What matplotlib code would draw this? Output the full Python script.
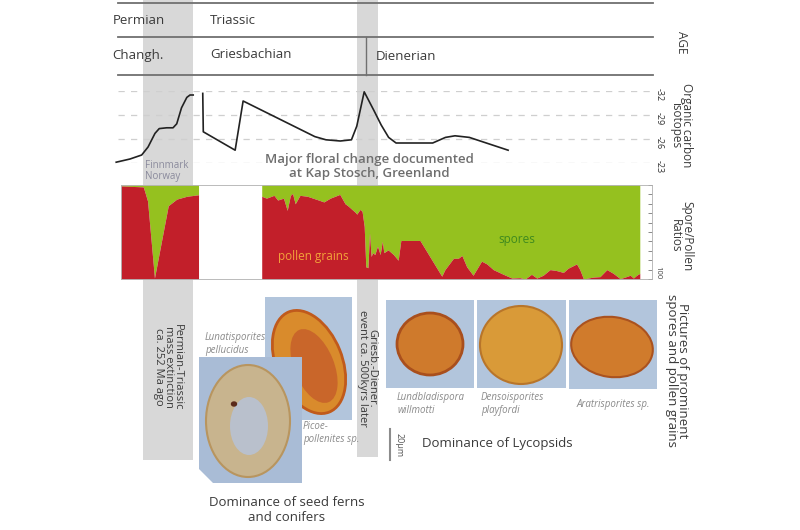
import numpy as np
import matplotlib
matplotlib.use("Agg")
import matplotlib.pyplot as plt
from matplotlib.patches import Rectangle, Polygon, Ellipse
from matplotlib.transforms import blended_transform_factory

plt.rcParams['font.family'] = ['Open Sans', 'DejaVu Sans']
plt.rcParams['axes.unicode_minus'] = False

# organic carbon isotope curve (section position 0-100, permil)
iso_pos_1 = [-0.9, 1.7, 3.9, 5.1, 6.4, 7.2, 8.6, 9.8, 10.5, 11.4, 12.4, 13.0, 13.6]
iso_val_1 = [-23.1, -23.5, -24.0, -25.0, -26.7, -27.3, -27.4, -27.4, -27.9, -29.9, -31.2, -31.5, -31.5]
iso_pos_2 = [15.4, 15.5, 21.5, 23.0, 36.5, 38.6, 41.3, 43.4, 44.4, 45.1, 45.8, 47.6, 49.0, 50.4,
             51.8, 58.7, 61.1, 62.9, 65.6, 72.9]
iso_val_2 = [-31.7, -26.9, -24.6, -30.75, -26.3, -25.9, -25.75, -25.9, -27.6, -29.75, -31.9, -29.6,
             -27.75, -26.2, -25.5, -25.5, -26.2, -26.4, -26.2, -24.6]
iso_ticks = [-32, -29, -26, -23]

# pollen percentage (the rest are spores)
pollen_pos_a = [0.0, 4.2, 5.0, 6.3, 8.9, 10.5, 12.4, 14.6]
pollen_a = [99, 98, 83, 1, 78, 85, 88, 89.6]
pollen_pos_b = [26.5, 27.4, 28.8, 29.5, 30.6, 31.3, 31.9, 32.3, 32.8, 33.7,
                35.1, 37.2, 38.2, 39.4, 41.2, 42.2, 42.7, 43.5, 44.1, 44.4,
                45.0, 45.4, 45.8, 46.1, 46.5, 46.8, 47.1, 47.4, 47.8, 48.3,
                48.8, 49.2, 49.5, 50.3, 51.3, 52.2, 52.7, 56.3, 60.4, 61.0,
                62.6, 63.5, 64.2, 65.1, 66.3, 67.9, 68.9, 70.1, 72.0, 73.6,
                75.1, 76.1, 77.3, 78.3, 79.5, 80.8, 82.0, 83.3, 84.2, 85.8,
                86.4, 87.1, 88.9, 90.2, 91.5, 92.7, 94.0, 94.9, 95.9, 96.5,
                97.1, 97.7]
pollen_b = [88, 86, 89, 84, 86, 73, 89, 91, 80, 89,
            88, 84, 82, 86, 90, 80, 78, 74, 71, 69,
            74, 72, 56, 13, 12, 49, 24, 28, 26, 35,
            26, 40, 28, 31, 26, 20, 41, 41, 3, 10,
            22, 22, 25, 13, 4, 19, 16, 10, 5, 1,
            1.4, 0, 5, 1, 4, 10, 9, 7, 11.5, 16,
            10, 0, 2, 2.5, 10, 6, 0.4, 2, 4, 1,
            4, 6]

# event bands (section position)
event_spans = [(4.1, 13.6), (44.4, 48.4)]
event_bottoms = [460, 457]

RED = '#c21f2a'
GREEN = '#95c11f'
BAND = '#d8d8d8'
DARK = '#3a3a3a'

fig = plt.figure(figsize=(8, 5.3), dpi=100)
bg = fig.add_axes([0, 0, 1, 1], zorder=0)
bg.set_xlim(0, 800)
bg.set_ylim(530, 0)
bg.axis('off')


def place(x0, y0, x1, y1, z):
    return fig.add_axes([x0 / 800, 1 - y1 / 530, (x1 - x0) / 800, (y1 - y0) / 530], zorder=z)


# spore / pollen chart
ax_sp = place(121, 185, 652, 279, 1)
ax_sp.set_xlim(0, 100)
ax_sp.set_ylim(100, 0)
for pos, pol in [(pollen_pos_a, pollen_a), (pollen_pos_b, pollen_b)]:
    pos = np.array(pos)
    spore = 100 - np.array(pol)
    ax_sp.fill_between(pos, 0, spore, color=GREEN, lw=0)
    ax_sp.fill_between(pos, spore, 100, color=RED, lw=0)
ax_sp.set_xticks([])
ax_sp.yaxis.tick_right()
ax_sp.set_yticks(np.arange(0, 101, 10))
ax_sp.set_yticklabels([''] * 10 + ['100'])
ax_sp.tick_params(axis='y', direction='in', length=3, width=0.6, color='#777777',
                  labelsize=5.5, labelrotation=-90, pad=1.5, labelcolor='#444444')
for lbl in ax_sp.get_yticklabels():
    lbl.set_va('bottom')
for s in ax_sp.spines.values():
    s.set_color('#b0b0b0')
    s.set_linewidth(0.6)
ax_sp.text(36.2, 76, 'pollen grains', color='#f2a23a', fontsize=8.5, ha='center', va='center')
ax_sp.text(74.6, 58, 'spores', color='#3f8a1e', fontsize=8.5, ha='center', va='center')

# isotope curve
ax_iso = place(118, 91, 655, 163, 2)
ax_iso.set_xlim(-0.56, 100.56)
ax_iso.set_ylim(-23, -32)
ax_iso.patch.set_visible(False)
for s in ax_iso.spines.values():
    s.set_visible(False)
ax_iso.plot(iso_pos_1, iso_val_1, color='#222222', lw=1.2, clip_on=False)
ax_iso.plot(iso_pos_2, iso_val_2, color='#222222', lw=1.2, clip_on=False)
ax_iso.set_xticks([])
ax_iso.yaxis.tick_right()
ax_iso.set_yticks(iso_ticks)
ax_iso.tick_params(axis='y', length=0, labelsize=6.5, labelrotation=-90, pad=0, labelcolor='#333333')
ax_iso.grid(axis='y', color='#cfcfcf', lw=0.9, linestyle=(0, (5, 5)))

# grey event bands behind everything
band_tr = blended_transform_factory(ax_sp.transData, bg.transData)
for (a, b), bot in zip(event_spans, event_bottoms):
    bg.add_patch(Rectangle((a, 0), b - a, bot, transform=band_tr, color=BAND, lw=0, zorder=0))

# age columns
for y in [3, 37, 75]:
    bg.plot([118, 653], [y, y], color='#707070', lw=1.3, zorder=1)
bg.plot([366, 366], [37, 75], color='#707070', lw=1.0, zorder=1)
bg.text(113, 20, 'Permian', fontsize=9.5, color=DARK, va='center')
bg.text(210, 20, 'Triassic', fontsize=9.5, color=DARK, va='center')
bg.text(112, 55, 'Changh.', fontsize=9.5, color=DARK, va='center')
bg.text(210, 55, 'Griesbachian', fontsize=9.5, color=DARK, va='center')
bg.text(376, 57, 'Dienerian', fontsize=9.5, color=DARK, va='center')

# right-hand labels
bg.text(681, 42, 'AGE', rotation=-90, fontsize=8.5, color=DARK, ha='center', va='center')
bg.text(681, 125, 'Organic carbon\nisotopes', rotation=-90, fontsize=8.5, color=DARK,
        ha='center', va='center', linespacing=0.85)
bg.text(681, 236, 'Spore/Pollen\nRatios', rotation=-90, fontsize=8.5, color=DARK,
        ha='center', va='center', linespacing=0.85)
bg.text(677, 371, 'Pictures of prominent\nspores and pollen grains', rotation=-90, fontsize=9.5,
        color=DARK, ha='center', va='center', linespacing=0.85)

bg.text(369, 166, 'Major floral change documented\nat Kap Stosch, Greenland', fontsize=9.5,
        fontweight='semibold', color='#6e6e6e', ha='center', va='center', linespacing=1.1, zorder=3)
bg.text(145, 171, 'Finnmark\nNorway', fontsize=7, color='#8a8a9c', va='center', linespacing=1.0)

bg.text(168, 367, 'Permian-Triassic\nmass extinction\nca. 252 Ma ago', rotation=-90, fontsize=8,
        color=DARK, ha='center', va='center', linespacing=0.85, zorder=3)
bg.text(367, 368, 'Griesb.-Diener.\nevent ca. 500kyrs later', rotation=-90, fontsize=8,
        color=DARK, ha='center', va='center', linespacing=0.85, zorder=3)

# pictures of grains (drawn sketches)
PHOTO_BG = '#b2c5dc'
bg.add_patch(Rectangle((265, 297), 87, 123, color=PHOTO_BG, lw=0, zorder=2))
bg.add_patch(Ellipse((309, 362), 66, 108, angle=-22, facecolor='#d98b2c', edgecolor='#c05a1c',
                     lw=2, zorder=2))
bg.add_patch(Ellipse((314, 366), 40, 78, angle=-22, facecolor='#c9662a', edgecolor='none', zorder=2))

bg.add_patch(Polygon([(199, 357), (302, 357), (302, 483), (213, 483), (199, 469)],
                     closed=True, color='#a9bcd6', lw=0, zorder=3))
bg.add_patch(Ellipse((248, 421), 84, 112, facecolor='#c8b48e', edgecolor='#b8955f', lw=1.5, zorder=3))
bg.add_patch(Ellipse((249, 426), 38, 58, facecolor='#b9c0cc', edgecolor='none', zorder=3))
bg.add_patch(Ellipse((234, 404), 5, 4, color='#5a2a1a', zorder=3))

photo_boxes = [(386, 300, 88, 88), (477, 300, 89, 88), (569, 300, 88, 89)]
for x, y, w, h in photo_boxes:
    bg.add_patch(Rectangle((x, y), w, h, color=PHOTO_BG, lw=0, zorder=2))
bg.add_patch(Ellipse((430, 344), 66, 62, facecolor='#cf7a2c', edgecolor='#a94f1d', lw=2, zorder=2))
bg.add_patch(Ellipse((521, 345), 82, 78, facecolor='#d99a38', edgecolor='#b8752a', lw=1.5, zorder=2))
bg.add_patch(Ellipse((612, 347), 82, 60, angle=8, facecolor='#d07b2c', edgecolor='#aa521f', lw=1.5,
                     zorder=2))

SPEC = '#8a8a8a'
bg.text(205, 344, 'Lunatisporites\npellucidus', fontsize=7, style='italic', color=SPEC, va='center',
        zorder=4)
bg.text(303, 433, 'Picoe-\npollenites sp.', fontsize=7, style='italic', color=SPEC, va='center',
        zorder=4)
bg.text(397, 404, 'Lundbladispora\nwillmotti', fontsize=7, style='italic', color=SPEC, va='center')
bg.text(481, 404, 'Densoisporites\nplayfordi', fontsize=7, style='italic', color=SPEC, va='center')
bg.text(577, 405, 'Aratrisporites sp.', fontsize=7, style='italic', color=SPEC, va='center')

bg.plot([390, 390], [429, 460], color='#8c8c8c', lw=1.5)
bg.text(399, 445, '20µm', rotation=-90, fontsize=6.5, color='#555555', ha='center', va='center')

bg.text(422, 444, 'Dominance of Lycopsids', fontsize=9.5, color=DARK, va='center')
bg.text(287, 510, 'Dominance of seed ferns\nand conifers', fontsize=9.5, color=DARK,
        ha='center', va='center', linespacing=1.2)

fig.savefig('out.png', dpi=100)
